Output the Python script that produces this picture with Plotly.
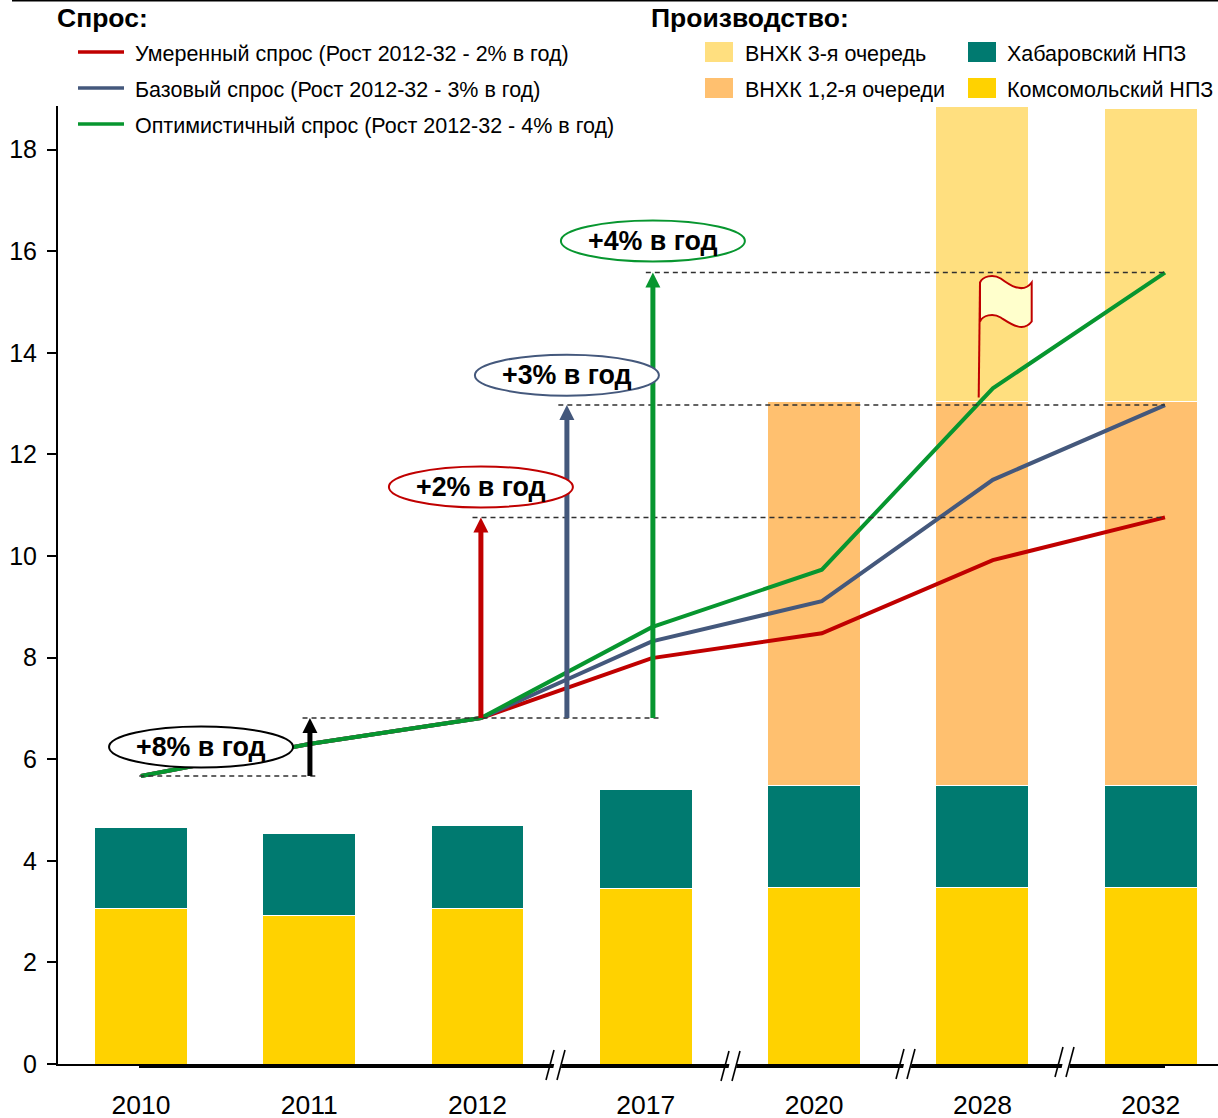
import plotly.graph_objects as go

# ---- data ----
years = ["2010", "2011", "2012", "2017", "2020", "2028", "2032"]
bar_pos = [0, 1, 2, 3, 4, 5, 6]
line_pos = [0, 1.0, 2.02, 3.036, 4.046, 5.062, 6.085]

komsomolsk = [3.07, 2.93, 3.07, 3.45, 3.48, 3.48, 3.48]
khabarovsk = [1.58, 1.60, 1.62, 1.96, 2.01, 2.01, 2.01]
vnhk_12 = [None, None, None, None, 7.56, 7.56, 7.56]
vnhk_3 = [None, None, None, None, None, 5.79, 5.75]

demand_low = [5.67, 6.30, 6.81, 7.99, 8.48, 9.92, 10.76]
demand_base = [5.67, 6.30, 6.81, 8.32, 9.11, 11.50, 12.97]
demand_high = [5.67, 6.30, 6.81, 8.60, 9.73, 13.30, 15.58]

# colours
RED, BLUE, GREEN = "#C00000", "#44587C", "#07962F"
TEAL, YELLOW, LIGHT, ORANGE = "#007A70", "#FFD200", "#FFDF7F", "#FFC06F"
FONT = "Liberation Sans"

# ---- frame geometry ----
W, H = 1218, 1118
L, T, B = 58, 106, 54
PW, PH = W - L, H - T - B
fx = lambda p: (p - L) / PW
fy = lambda p: (H - B - p) / PH

fig = go.Figure()
bar_series = [("Комсомольский НПЗ", komsomolsk, YELLOW), ("Хабаровский НПЗ", khabarovsk, TEAL),
              ("ВНХК 1,2-я очереди", vnhk_12, ORANGE), ("ВНХК 3-я очередь", vnhk_3, LIGHT)]
for name, vals, col in bar_series:
    fig.add_bar(x=bar_pos, y=vals, name=name, width=0.552,
                marker=dict(color=col, line=dict(color="white", width=1)))
for name, vals, col in [("Умеренный спрос", demand_low, RED), ("Базовый спрос", demand_base, BLUE),
                        ("Оптимистичный спрос", demand_high, GREEN)]:
    fig.add_scatter(x=line_pos, y=vals, name=name, mode="lines", line=dict(color=col, width=4))

shapes, anns = [], []

# dashed guides: (x start, x end, level)
guides = [(-0.01, 1.05, demand_high[0]), (0.96, 3.08, demand_high[2]),
          (1.97, line_pos[6], demand_low[6]), (2.48, line_pos[6], demand_base[6]),
          (3.0, line_pos[6], demand_high[6])]
for x0, x1, y in guides:
    shapes.append(dict(type="line", xref="x", yref="y", x0=x0, x1=x1, y0=y, y1=y, layer="above",
                       line=dict(color="#303030", width=1.5, dash="5px,4px")))

# growth arrows: (x, base, tip, colour)
arrows = [(1.004, demand_high[0], demand_high[2], "#000000"), (2.02, demand_high[2], demand_low[6], RED),
          (2.531, demand_high[2], demand_base[6], BLUE), (3.042, demand_high[2], demand_high[6], GREEN)]
for x, y0, y1, col in arrows:
    shapes.append(dict(type="line", xref="x", yref="y", x0=x, x1=x, y0=y0, y1=y1 - 0.2, layer="above",
                       line=dict(color=col, width=5)))
    shapes.append(dict(type="path", xref="x", yref="y", xsizemode="pixel", ysizemode="pixel",
                       xanchor=x, yanchor=y1, path="M0,0 L-7.5,-15 L7.5,-15 Z", layer="above",
                       fillcolor=col, line=dict(width=0)))

# growth ellipses
ellipses = [(0.357, 6.24, "#000000", "+8% в год"), (2.02, 11.36, RED, "+2% в год"),
            (2.531, 13.56, BLUE, "+3% в год"), (3.042, 16.2, GREEN, "+4% в год")]
for x, y, col, txt in ellipses:
    shapes.append(dict(type="circle", xref="x", yref="y", xsizemode="pixel", ysizemode="pixel",
                       xanchor=x, yanchor=y, x0=-92, x1=92, y0=-20.5, y1=20.5, layer="above",
                       fillcolor="white", line=dict(color=col, width=2)))
    anns.append(dict(x=x, y=y, xref="x", yref="y", text=f"<b>{txt}</b>", showarrow=False,
                     font=dict(family=FONT, size=26.8, color="black")))

# flag on the 2028 bar
flag_x, flag_y = 4.978, 13.12
shapes.append(dict(type="path", xref="x", yref="y", xsizemode="pixel", ysizemode="pixel",
                   xanchor=flag_x, yanchor=flag_y, layer="above", fillcolor="#FFFFCC",
                   path="M1.3,115 C4,121 14,124 22,119 C30,113 44,103 53,115 L53,76 C44,64 30,75 22,80 C14,85 4,82 1.3,76 Z",
                   line=dict(color=RED, width=2)))
shapes.append(dict(type="path", xref="x", yref="y", xsizemode="pixel", ysizemode="pixel",
                   xanchor=flag_x, yanchor=flag_y, layer="above", path="M0,0 L1.3,115",
                   line=dict(color=RED, width=2)))

# thick baseline with axis-break marks
shapes.append(dict(type="line", xref="paper", yref="paper", x0=fx(139), x1=fx(1165), y0=fy(1066), y1=fy(1066),
                   layer="above", line=dict(color="black", width=4)))
for c, yc in [(556, 1065), (731, 1066), (906, 1064), (1065, 1062)]:
    shapes.append(dict(type="path", xref="paper", yref="paper", layer="above", fillcolor="white",
                       line=dict(width=0),
                       path=f"M{fx(c-5)},{fy(yc+13)} L{fx(c+3)},{fy(yc+13)} L{fx(c+8)},{fy(yc-13)} L{fx(c+1)},{fy(yc-13)} Z"))
    for dx in (-10, 1):
        shapes.append(dict(type="line", xref="paper", yref="paper", layer="above",
                           x0=fx(c + dx), y0=fy(yc + 15), x1=fx(c + dx + 8), y1=fy(yc - 15),
                           line=dict(color="black", width=1.6)))

# top rule
shapes.append(dict(type="line", xref="paper", yref="paper", x0=fx(12), x1=fx(1218), y0=fy(0.5), y1=fy(0.5),
                   line=dict(color="black", width=2)))


def label(px, py, text, size=21.5, bold=False):
    anns.append(dict(x=fx(px), y=fy(py), xref="paper", yref="paper", xanchor="left", yanchor="middle",
                     text=f"<b>{text}</b>" if bold else text, showarrow=False,
                     font=dict(family=FONT, size=size, color="black"), borderpad=0))


label(56, 18, "Спрос:", 26.5, True)
label(650, 18, "Производство:", 26.5, True)
for py, col, txt in [(52, RED, "Умеренный спрос (Рост 2012-32 - 2% в год)"),
                     (88, BLUE, "Базовый спрос (Рост 2012-32 - 3% в год)"),
                     (124, GREEN, "Оптимистичный спрос (Рост 2012-32 - 4% в год)")]:
    shapes.append(dict(type="line", xref="paper", yref="paper", x0=fx(78), x1=fx(124), y0=fy(py), y1=fy(py),
                       line=dict(color=col, width=3.5)))
    label(134, py + 2, txt)
for sx, tx, py, col, txt in [(705, 744, 52, LIGHT, "ВНХК 3-я очередь"), (705, 744, 88, ORANGE, "ВНХК 1,2-я очереди"),
                             (968, 1006, 52, TEAL, "Хабаровский НПЗ"), (968, 1006, 88, YELLOW, "Комсомольский НПЗ")]:
    shapes.append(dict(type="rect", xref="paper", yref="paper", x0=fx(sx), x1=fx(sx + 28), y0=fy(py - 10), y1=fy(py + 10),
                       fillcolor=col, line=dict(width=0)))
    label(tx, py + 2, txt)

fig.update_layout(
    width=W, height=H, margin=dict(l=L, r=0, t=T, b=B), autosize=False,
    paper_bgcolor="white", plot_bgcolor="white", showlegend=False, barmode="stack",
    font=dict(family=FONT, color="black"), shapes=shapes, annotations=anns,
    xaxis=dict(range=[-0.493, 6.4], tickvals=bar_pos, ticktext=years, showgrid=False, zeroline=False,
               automargin=False, showline=True, linecolor="black", linewidth=2, ticks="", ticklabelstandoff=16,
               tickfont=dict(family=FONT, size=26.5, color="black")),
    yaxis=dict(range=[0, PH / 50.8], tickvals=list(range(0, 20, 2)), showgrid=False, zeroline=False,
               automargin=False, showline=True, linecolor="black", linewidth=2, ticks="outside", ticklen=9,
               tickwidth=2, tickcolor="black", ticklabelstandoff=5,
               tickfont=dict(family=FONT, size=25, color="black")),
)
fig.write_html("out.html", config=dict(displayModeBar=False),
               post_script="document.body.style.margin='0';document.body.style.overflow='hidden';")
